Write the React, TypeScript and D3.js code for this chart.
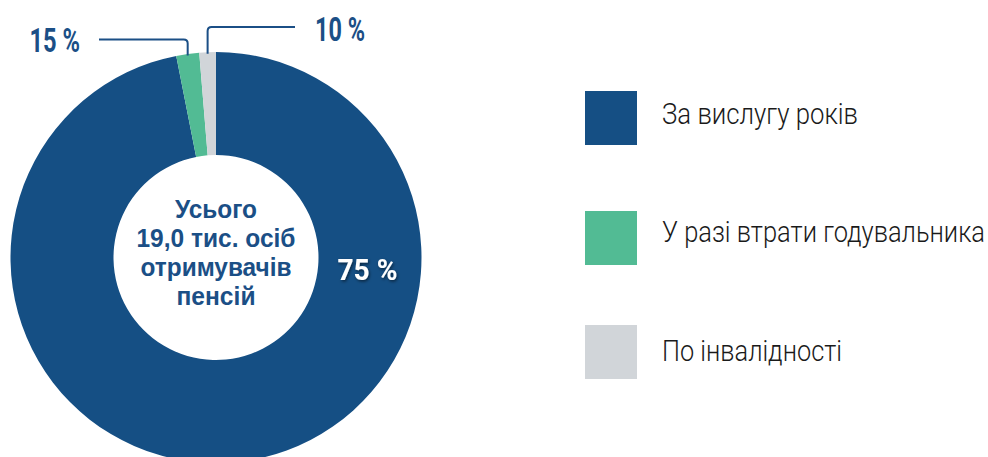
import React from "react";
import * as d3 from "d3";

const categories = ["За вислугу років", "У разі втрати годувальника", "По інвалідності"];
const sliceShares = [96.9, 1.8, 1.3];
const sliceLabels = ["75 %", "15 %", "10 %"];
const centerLines = ["Усього", "19,0 тис. осіб", "отримувачів", "пенсій"];
const colors = ["#154f84", "#52bb94", "#d1d5d9"];

const W = 988;
const H = 457;
const cx = 216;
const cy = 257.5;
const rOuter = 205.5;
const rInner = 102.5;
const textBlue = "#1b4f86";

export default function App() {
  const pie = d3.pie<number>().sort(null).value((d) => d);
  const arcs = pie(sliceShares);
  const arcGen = d3.arc<d3.PieArcDatum<number>>().innerRadius(rInner).outerRadius(rOuter);

  const leader = (i: number, yH: number, xEnd: number) => {
    const a = arcs[i];
    const mid = (a.startAngle + a.endAngle) / 2;
    const px = cx + rOuter * Math.sin(mid);
    const py = cy - rOuter * Math.cos(mid) + 1.5;
    const rr = 4;
    const dir = xEnd < px ? -1 : 1;
    return `M${px},${py} L${px},${yH + rr} Q${px},${yH} ${px + dir * rr},${yH} L${xEnd},${yH}`;
  };

  const legendY = [91, 211, 325];
  const legendTextY = [123.5, 241.5, 360.5];
  const legendTextW = [196, 323, 180];
  const legendScale = 0.8;
  const centerY = [217.5, 246.5, 275.5, 305];
  const centerW = [82, 159, 151, 79];

  return (
    <svg width={W} height={H} style={{ position: "absolute", left: 0, top: 0 }}>
      <defs>
        <filter id="sh" x="-20%" y="-20%" width="140%" height="140%">
          <feDropShadow dx="1" dy="1.5" stdDeviation="1.8" floodColor="#000" floodOpacity="0.55" />
        </filter>
      </defs>
      <rect width={W} height={H} fill="#fff" />
      <g transform={`translate(${cx},${cy})`}>
        {arcs.map((a, i) => (
          <path key={i} d={arcGen(a) || ""} fill={colors[i]} />
        ))}
      </g>
      <path d={leader(1, 39.5, 99)} fill="none" stroke={textBlue} strokeWidth={2} />
      <path d={leader(2, 27, 295)} fill="none" stroke={textBlue} strokeWidth={2} />
      <text x={29.5} y={51.5} fontFamily="Roboto" fontWeight={700} fontSize={33} fill={textBlue}
        textLength={50.5} lengthAdjust="spacingAndGlyphs">{sliceLabels[1]}</text>
      <text x={315} y={40.5} fontFamily="Roboto" fontWeight={700} fontSize={33} fill={textBlue}
        textLength={50} lengthAdjust="spacingAndGlyphs">{sliceLabels[2]}</text>
      <text x={337.5} y={280} fontFamily="Roboto" fontWeight={700} fontSize={29} fill="#fff"
        textLength={60} lengthAdjust="spacingAndGlyphs" filter="url(#sh)">{sliceLabels[0]}</text>
      {centerLines.map((t, i) => (
        <text key={i} x={216} y={centerY[i]} textAnchor="middle" fontFamily="'Liberation Sans', Arial, sans-serif"
          fontWeight={700} fontSize={25.5} fill={textBlue} textLength={centerW[i]}
          lengthAdjust="spacingAndGlyphs">{t}</text>
      ))}
      {categories.map((c, i) => (
        <g key={i}>
          <rect x={585} y={legendY[i]} width={52} height={54} fill={colors[i]} />
          <text transform={`translate(662,${legendTextY[i]}) scale(${legendScale},1)`} fontFamily="Roboto"
            fontWeight={300} fontSize={30} fill="#1a1a1a" textLength={legendTextW[i] / legendScale}
            lengthAdjust="spacingAndGlyphs">{c}</text>
        </g>
      ))}
    </svg>
  );
}
